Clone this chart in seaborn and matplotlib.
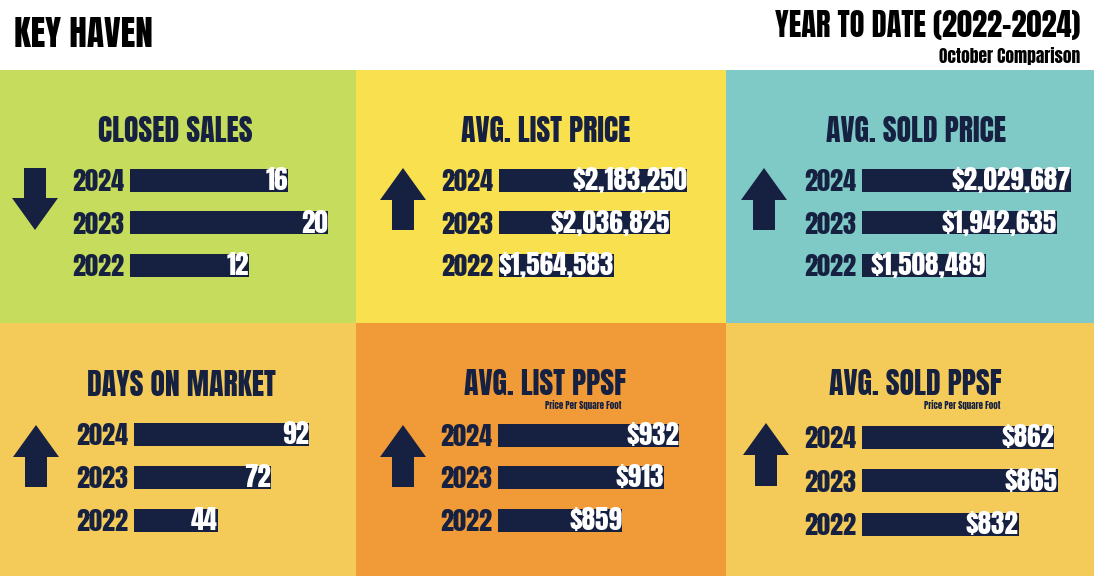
import matplotlib
matplotlib.use("Agg")
import matplotlib.pyplot as plt
import seaborn as sns
import pandas as pd
from matplotlib.patches import Rectangle, Polygon

# ---------------- data ----------------
years = ["2024", "2023", "2022"]
closed_sales = [16, 20, 12]
avg_list_price = [2183250, 2036825, 1564583]
avg_sold_price = [2029687, 1942635, 1508489]
days_on_market = [92, 72, 44]
avg_list_ppsf = [932, 913, 859]
avg_sold_ppsf = [862, 865, 832]
titles = ["CLOSED SALES", "AVG. LIST PRICE", "AVG. SOLD PRICE",
          "DAYS ON MARKET", "AVG. LIST PPSF", "AVG. SOLD PPSF"]
trends = ["down", "up", "up", "up", "up", "up"]
money = [False, True, True, False, True, True]
subtitles = ["", "", "", "", "Price Per Square Foot", "Price Per Square Foot"]
series = [closed_sales, avg_list_price, avg_sold_price,
          days_on_market, avg_list_ppsf, avg_sold_ppsf]

# ---------------- style ----------------
sns.set_theme(style="white")
plt.rcParams["font.family"] = ["Anton", "Oswald", "Barlow Condensed", "DejaVu Sans"]

W, H = 1094, 576
NAVY = "#162041"
fig = plt.figure(figsize=(W / 100, H / 100), dpi=100)
fig.patch.set_facecolor("white")


def fx(x):
    return x / W


def fy(y):
    return 1 - y / H


layout = [
    dict(rect=(0, 70, 356, 253), bg="#C6DC5C", bx=130, cy=(180, 223, 265), base=0, k=9.9,
         tc=(175, 131), ar=(35, 168, 230)),
    dict(rect=(356, 70, 370, 253), bg="#F9E04F", bx=499, cy=(180, 222, 265), base=600000, k=118.8e-6,
         tc=(546, 131), ar=(403, 168, 230)),
    dict(rect=(726, 70, 368, 253), bg="#7FC9C6", bx=862, cy=(180, 222, 265), base=750000, k=163.4e-6,
         tc=(916, 131), ar=(764, 168, 230)),
    dict(rect=(0, 323, 356, 253), bg="#F4CB58", bx=134, cy=(434, 477, 520), base=0, k=1.90,
         tc=(181, 385), ar=(36, 425, 487)),
    dict(rect=(356, 323, 370, 253), bg="#F19B38", bx=498, cy=(435, 477, 520), base=700, k=0.781,
         tc=(545, 384), ar=(403, 425, 487), sub=(621, 405)),
    dict(rect=(726, 323, 368, 253), bg="#F4CB58", bx=862, cy=(437, 481, 524), base=700, k=1.187,
         tc=(915, 384), ar=(766, 423, 486), sub=(1000, 405)),
]

# header
fig.text(fx(14), fy(34), "KEY HAVEN", fontsize=25.5, color="black", ha="left", va="center")
fig.text(fx(1080), fy(25), "YEAR TO DATE (2022-2024)", fontsize=22, color="black",
         ha="right", va="center")
fig.text(fx(1080), fy(56), "October Comparison", fontsize=12.5, color="black",
         ha="right", va="center")

for i, L in enumerate(layout):
    x0, y0, w, h = L["rect"]
    fig.add_artist(Rectangle((fx(x0), fy(y0 + h)), w / W, h / H, transform=fig.transFigure,
                             facecolor=L["bg"], edgecolor="none", zorder=-10))
    fig.text(fx(L["tc"][0]), fy(L["tc"][1]), titles[i], fontsize=21.5,
             color=NAVY, ha="center", va="center")
    if subtitles[i]:
        fig.text(fx(L["sub"][0]), fy(L["sub"][1]), subtitles[i], fontsize=6.5,
                 color=NAVY, ha="right", va="center")
    cx, ty, by = L["ar"]
    hw, sw, hl = 23, 11, 32
    if trends[i] == "up":
        pts = [(cx, ty), (cx + hw, ty + hl), (cx + sw, ty + hl), (cx + sw, by),
               (cx - sw, by), (cx - sw, ty + hl), (cx - hw, ty + hl)]
    else:
        pts = [(cx, by), (cx + hw, by - hl), (cx + sw, by - hl), (cx + sw, ty),
               (cx - sw, ty), (cx - sw, by - hl), (cx - hw, by - hl)]
    fig.add_artist(Polygon([(fx(px), fy(py)) for px, py in pts], closed=True,
                           transform=fig.transFigure, facecolor=NAVY, edgecolor="none"))

    c1, c2, c3 = L["cy"]
    s = (c3 - c1) / 2
    top = c1 - s / 2
    axw = x0 + w - 6 - L["bx"]
    ax = fig.add_axes([fx(L["bx"]), fy(top + 3 * s), axw / W, 3 * s / H])
    df = pd.DataFrame({"year": years, "value": series[i]})
    sns.barplot(data=df, x="value", y="year", orient="h", color=NAVY, width=23 / s,
                saturation=1, ax=ax, order=years, linewidth=0, edgecolor="none")
    ax.set_xlim(L["base"], L["base"] + axw / L["k"])
    ax.set_ylim(2.5, -0.5)
    ax.set_facecolor("none")
    for sp in ax.spines.values():
        sp.set_visible(False)
    ax.set_xticks([])
    ax.set_xlabel("")
    ax.set_ylabel("")
    ax.tick_params(axis="y", length=0, pad=4, labelsize=19, labelcolor=NAVY)
    for j, v in enumerate(series[i]):
        lab = f"${v:,}" if money[i] else f"{v}"
        ax.text(v, j, lab, ha="right", va="center", color="white", fontsize=19.5,
                clip_on=False)

fig.savefig("out.png", dpi=100, facecolor="white")
